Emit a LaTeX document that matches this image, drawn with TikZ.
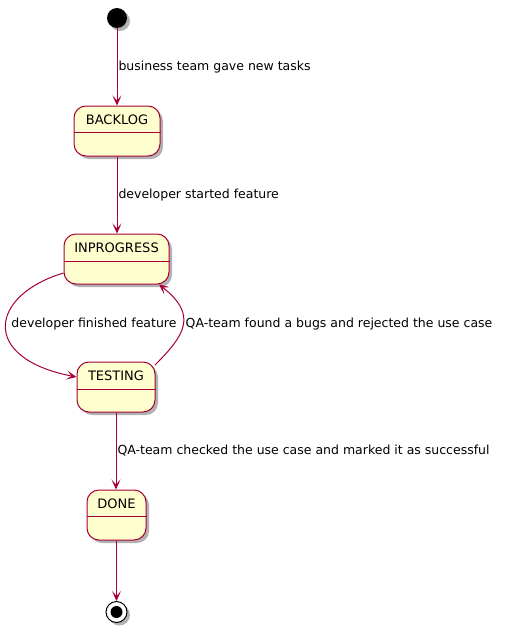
\documentclass[tikz,border=0pt]{standalone}
\usepackage{fontspec}
\setmainfont{DejaVu Sans}
\usetikzlibrary{arrows.meta,shadows,calc}
\definecolor{umlred}{HTML}{A80036}
\definecolor{umlfill}{HTML}{FEFECE}
\begin{document}
\begin{tikzpicture}[x=1pt,y=-1pt,
  shade/.style={drop shadow={shadow xshift=3pt,shadow yshift=-3pt,fill=black,opacity=0.3}},
  statebox/.style={draw=umlred,fill=umlfill,line width=1pt,rounded corners=12pt,minimum height=50pt,inner sep=0pt,shade},
  statetitle/.style={inner sep=0pt,font=\fontsize{13}{15}\selectfont},
  sepline/.style={draw=umlred,line width=1pt},
  conn/.style={draw=umlred,line width=1pt,-{Stealth[length=10pt,width=9pt,inset=5pt]}},
  lbl/.style={inner sep=1pt,font=\fontsize{12.5}{14}\selectfont,text=black},
  startdot/.style={circle,fill=black,minimum size=20pt,inner sep=0pt,shade},
  endouter/.style={circle,draw=black,fill=white,line width=1pt,minimum size=21pt,inner sep=0pt,shade},
  endinner/.style={circle,fill=black,minimum size=12pt,inner sep=0pt}]
\useasboundingbox (0,0) rectangle (504,632);

% initial state
\node[startdot] (start) at (117,18) {};

% states
\node[statebox,minimum width=86pt] (backlog) at (117,131) {};
\node[statetitle] (backlogt) at (117,119.5) {BACKLOG};
\draw[sepline] (backlog.west |- 0,132) -- (backlog.east |- 0,132);

\node[statebox,minimum width=105pt] (inprog) at (116.5,259) {};
\node[statetitle] (inprogt) at (116.5,247.5) {INPROGRESS};
\draw[sepline] (inprog.west |- 0,261.5) -- (inprog.east |- 0,261.5);

\node[statebox,minimum width=78pt] (testing) at (116,387) {};
\node[statetitle] (testingt) at (116,375.5) {TESTING};
\draw[sepline] (testing.west |- 0,389) -- (testing.east |- 0,389);

\node[statebox,minimum width=59pt] (done) at (116.5,515) {};
\node[statetitle] (donet) at (116.5,503.5) {DONE};
\draw[sepline] (done.west |- 0,516) -- (done.east |- 0,516);

% final state
\node[endouter] (final) at (116.5,612) {};
\node[endinner] (finalin) at (final) {};

% transitions
\draw[conn] (start) -- (start |- backlog.north)
  node[lbl,anchor=west,midway] (l1) {business team gave new tasks};
\draw[conn] (backlog) -- (backlog |- inprog.north)
  node[lbl,anchor=west,midway] (l2) {developer started feature};
\draw[conn] ($(inprog.west)+(0,14)$) .. controls (-10,295) and (-21,358) .. ($(testing.west)+(0,-10)$);
\node[lbl] (l3) at (94,324) {developer finished feature};
\draw[conn] (155,365) .. controls (185,335) and (198,315) .. ($(inprog.south)+(42.5,0)$);
\node[lbl,anchor=west] (l4) at (184.5,324) {QA-team found a bugs and rejected the use case};
\draw[conn] (testing) -- (testing |- done.north)
  node[lbl,anchor=west,midway] (l5) {QA-team checked the use case and marked it as successful};
\draw[conn] (done) -- (done |- final.north);
\end{tikzpicture}
\end{document}
